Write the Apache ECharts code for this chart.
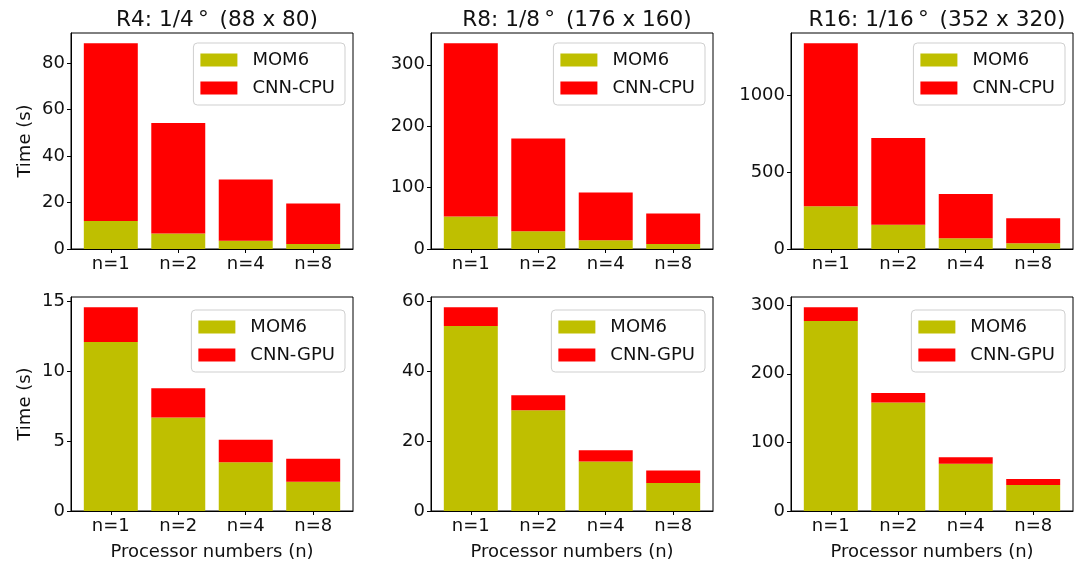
<!DOCTYPE html>
<html>
<head>
<meta charset="utf-8">
<script src="https://cdn.jsdelivr.net/npm/echarts@6/dist/echarts.min.js"></script>
<style>
html,body{margin:0;padding:0;background:#fff;}
#chart{width:1083px;height:564px;}
</style>
</head>
<body>
<div id="chart"></div>
<script>
// ---- data ----
const categories = ['n=1', 'n=2', 'n=4', 'n=8'];

const mom6R4 = [12.1, 6.7, 3.5, 2.1];
const cnnCpuR4 = [76.5, 47.6, 26.4, 17.5];
const cnnGpuR4 = [2.5, 2.1, 1.6, 1.65];

const mom6R8 = [53.0, 28.9, 14.2, 8.0];
const cnnCpuR8 = [282, 151, 78, 50];
const cnnGpuR8 = [5.4, 4.3, 3.2, 3.6];

const mom6R16 = [277, 158, 69, 38];
const cnnCpuR16 = [1058, 562, 288, 162];
const cnnGpuR16 = [20, 14, 9.5, 8.7];

const titles = ['R4: 1/4\u2009\u00B0\u2002(88 x 80)', 'R8: 1/8\u2009\u00B0\u2002(176 x 160)', 'R16: 1/16\u2009\u00B0\u2002(352 x 320)'];

const ticksTopR4 = [0, 20, 40, 60, 80];
const ticksTopR8 = [0, 100, 200, 300];
const ticksTopR16 = [0, 500, 1000];
const ticksBotR4 = [0, 5, 10, 15];
const ticksBotR8 = [0, 20, 40, 60];
const ticksBotR16 = [0, 100, 200, 300];

const yLabel = 'Time (s)';
const xLabel = 'Processor numbers (n)';
const nameMom6 = 'MOM6';
const nameCpu = 'CNN-CPU';
const nameGpu = 'CNN-GPU';

// ---- layout / style ----
const OLIVE = '#bfbf00';
const RED = '#ff0000';
const TXT = '#111';
const FS = 18;
const colLeft = [71, 431, 791];
const plotW = 282;
const rowTop = [33, 297];
const rowH = [216, 214];

const panels = [
  {row:0, col:0, mom:mom6R4, cnn:cnnCpuR4, cnnName:nameCpu, ticks:ticksTopR4},
  {row:0, col:1, mom:mom6R8, cnn:cnnCpuR8, cnnName:nameCpu, ticks:ticksTopR8},
  {row:0, col:2, mom:mom6R16, cnn:cnnCpuR16, cnnName:nameCpu, ticks:ticksTopR16},
  {row:1, col:0, mom:mom6R4, cnn:cnnGpuR4, cnnName:nameGpu, ticks:ticksBotR4},
  {row:1, col:1, mom:mom6R8, cnn:cnnGpuR8, cnnName:nameGpu, ticks:ticksBotR8},
  {row:1, col:2, mom:mom6R16, cnn:cnnGpuR16, cnnName:nameGpu, ticks:ticksBotR16}
];

const catIdx = categories.map((c, i) => i);

const grid = [], xAxis = [], yAxis = [], series = [], legend = [], title = [];

panels.forEach((p, k) => {
  grid.push({
    left: colLeft[p.col], top: rowTop[p.row], width: plotW, height: rowH[p.row],
    show: true, borderColor: '#000', borderWidth: 1, backgroundColor: '#fff'
  });
  xAxis.push({
    type: 'value', gridIndex: k, min: -0.59, max: 3.59,
    splitLine: {show: false},
    axisLine: {show: true, onZero: false, lineStyle: {color: '#000', width: 1}},
    axisTick: {show: true, length: 4, lineStyle: {color: '#000'}, customValues: catIdx},
    axisLabel: {show: true, customValues: catIdx, formatter: v => categories[Math.round(v)],
      color: TXT, fontSize: FS, fontFamily: 'DejaVu Sans', margin: 6},
    name: p.row === 1 ? xLabel : '', nameLocation: 'middle', nameGap: 32,
    nameTextStyle: {color: TXT, fontSize: FS, fontFamily: 'DejaVu Sans'}
  });
  yAxis.push({
    type: 'value', gridIndex: k, min: 0, max: v => v.max * 1.05,
    splitLine: {show: false},
    axisLine: {show: true, onZero: false, lineStyle: {color: '#000', width: 1}},
    axisTick: {show: true, length: 4, lineStyle: {color: '#000'}, customValues: p.ticks},
    axisLabel: {show: true, customValues: p.ticks, formatter: v => String(v),
      color: TXT, fontSize: FS, fontFamily: 'DejaVu Sans', margin: 6},
    name: p.col === 0 ? yLabel : '', nameLocation: 'middle', nameGap: 37,
    nameTextStyle: {color: TXT, fontSize: FS, fontFamily: 'DejaVu Sans'}
  });
  const stackId = 's' + k;
  // value first so that the y dimension is the stacked one
  series.push({
    type: 'bar', name: nameMom6, xAxisIndex: k, yAxisIndex: k, stack: stackId,
    barWidth: '80%', itemStyle: {color: OLIVE},
    encode: {x: 1, y: 0},
    data: p.mom.map((v, i) => [v, catIdx[i]])
  });
  series.push({
    type: 'bar', name: p.cnnName, xAxisIndex: k, yAxisIndex: k, stack: stackId,
    barWidth: '80%', itemStyle: {color: RED},
    encode: {x: 1, y: 0},
    data: p.cnn.map((v, i) => [v, catIdx[i]])
  });
  const gridRight = colLeft[p.col] + plotW;
  legend.push({
    orient: 'vertical',
    right: 1083 - (gridRight - 8),
    top: rowTop[p.row] + (p.row === 0 ? 10 : 13),
    data: [nameMom6, p.cnnName],
    itemWidth: 37, itemHeight: 13, itemGap: 10,
    padding: [8, 10, 8, 7],
    borderColor: '#cfcfcf', borderWidth: 1, borderRadius: 4,
    backgroundColor: 'rgba(255,255,255,0.8)',
    selectedMode: false,
    icon: 'rect',
    textStyle: {color: TXT, fontSize: FS, fontFamily: 'DejaVu Sans', padding: [0, 0, 0, 10]}
  });
});

titles.forEach((t, c) => {
  title.push({
    text: t, left: colLeft[c] + plotW / 2, top: 4, textAlign: 'center',
    textStyle: {color: TXT, fontSize: 21.6, fontWeight: 'normal', fontFamily: 'DejaVu Sans'}
  });
});

const chart = echarts.init(document.getElementById('chart'), null, {renderer: 'canvas'});
chart.setOption({
  animation: false,
  backgroundColor: '#fff',
  title, grid, xAxis, yAxis, series, legend
});
</script>
</body>
</html>
